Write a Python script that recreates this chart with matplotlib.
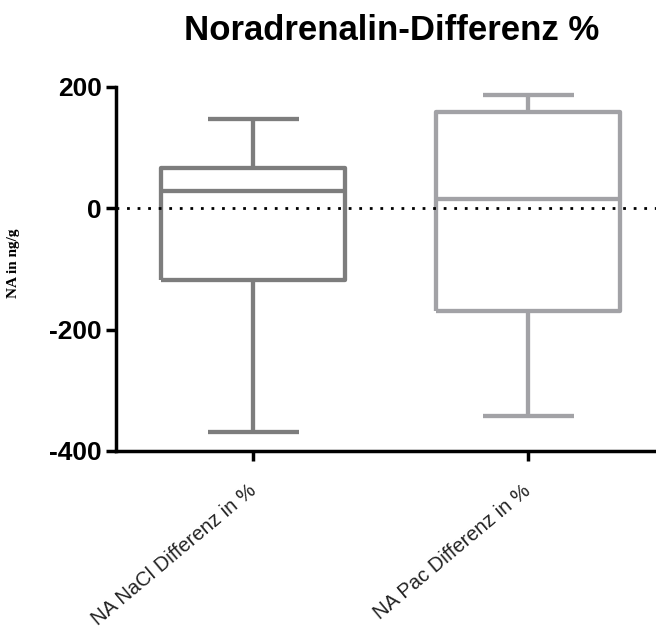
import matplotlib
matplotlib.use('Agg')
import matplotlib.pyplot as plt

plt.rcParams['font.family'] = ['Liberation Sans', 'DejaVu Sans']

groups = ['NA NaCl Differenz in %', 'NA Pac Differenz in %']
whislo = [-369, -342]
q1 = [-118, -170]
med = [29, 16]
q3 = [67, 158]
whishi = [148, 187]
colors = ['#7d7d7d', '#a2a2a6']

yticks = [-400, -200, 0, 200]

stats = []
for i in range(len(groups)):
    stats.append({'label': groups[i], 'whislo': whislo[i], 'q1': q1[i],
                  'med': med[i], 'q3': q3[i], 'whishi': whishi[i]})

fig = plt.figure(figsize=(6.56, 6.32), dpi=100)
ax = fig.add_axes([116/656, 181/632, 540/656, 364/632])

for i, s in enumerate(stats):
    c = colors[i]
    lp = dict(color=c, linewidth=3.1, solid_joinstyle='round', solid_capstyle='butt')
    ax.bxp([s], positions=[i], widths=0.67, capwidths=0.33, showfliers=False,
           boxprops=lp, whiskerprops=lp, capprops=lp, medianprops=lp)

# dotted zero line
ax.axhline(0, color='black', linewidth=2.0, linestyle=(0, (1, 2.8)),
           dash_capstyle='butt', zorder=5)

ax.set_xlim(-0.5, 1.465)
ax.set_ylim(-400, 200)
ax.set_yticks(yticks)
ax.set_yticklabels([str(v) for v in yticks], fontsize=19, fontweight='bold')
ax.set_xticks([0, 1])
ax.set_xticklabels(groups, rotation=40, ha='right', va='center',
                   rotation_mode='anchor', fontsize=14.5, color='#222222')

for side in ['top', 'right']:
    ax.spines[side].set_visible(False)
for side in ['left', 'bottom']:
    ax.spines[side].set_linewidth(2.5)
ax.tick_params(axis='both', width=2.5, length=7)
ax.tick_params(axis='x', pad=20)
ax.tick_params(axis='y', pad=3)

ax.set_ylabel('NA in ng/g', family=['Liberation Serif', 'DejaVu Serif'],
              fontsize=11, fontweight='bold')
ax.yaxis.set_label_coords(-(116 - 20) / 540, 0.516)

fig.text(392/656, 1 - 40/632, 'Noradrenalin-Differenz %', ha='center', va='baseline',
         fontsize=25, fontweight='bold')

fig.savefig('out.png', dpi=100)
